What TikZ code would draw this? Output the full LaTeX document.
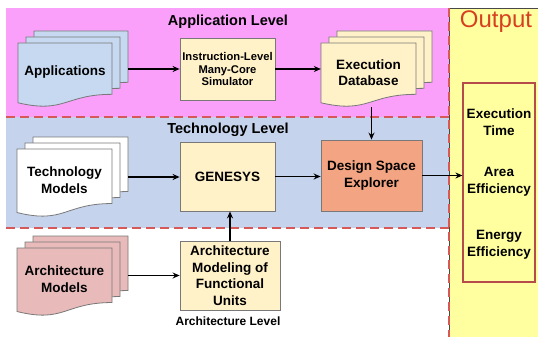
\documentclass[tikz,border=0pt]{standalone}
\usepackage{fontspec}
\setmainfont{Liberation Sans}
\usetikzlibrary{arrows.meta}

\definecolor{appbg}{RGB}{250,160,250}
\definecolor{techbg}{RGB}{197,212,236}
\definecolor{outbg}{RGB}{255,255,160}
\definecolor{cream}{RGB}{255,241,200}
\definecolor{docblue}{RGB}{198,217,241}
\definecolor{docpink}{RGB}{232,186,186}
\definecolor{salmon}{RGB}{243,164,130}
\definecolor{sepred}{RGB}{214,88,88}
\definecolor{outred}{RGB}{214,64,32}
\definecolor{edge}{RGB}{120,120,120}

\tikzset{
  docline/.style={draw=edge, line width=0.8pt},
  boxnode/.style={draw=edge, line width=0.8pt, fill=cream, align=center,
    inner sep=0pt, font=\bfseries\fontsize{13.5}{16.5}\selectfont},
  textnode/.style={align=center, inner sep=0pt, font=\bfseries\fontsize{13.5}{16.5}\selectfont},
  leveltitle/.style={inner sep=0pt, font=\bfseries\fontsize{14.5}{17}\selectfont},
  separator/.style={draw=sepred, line width=2.2pt, dash pattern=on 9pt off 5pt},
  arr/.style={draw=black, line width=1.4pt, -{Stealth[length=7pt,width=6pt]}},
}

% stack of three document sheets: name, left x, top y, width, height, fill, text
\newcommand\docstack[7]{%
  \foreach \k in {2,1,0}{%
    \draw[docline, fill=#6]
      ({#2+8*\k},{#3-6*\k}) -- ({#2+8*\k+#4},{#3-6*\k})
      -- ({#2+8*\k+#4},{#3-6*\k+0.802*#5})
      .. controls ({#2+8*\k+0.5*#4},{#3-6*\k+0.802*#5})
              and ({#2+8*\k+0.5*#4},{#3-6*\k+1.107*#5})
      .. ({#2+8*\k},{#3-6*\k+0.934*#5}) -- cycle;
  }%
  \node[inner sep=0pt, minimum width={(#4+16)*1pt}, minimum height={(#5+12)*1pt}]
    (#1) at ({#2+(#4+16)/2},{#3-12+(#5+12)/2}) {};
  \node[textnode] (#1-text) at ({#2+#4/2},{#3+0.46*#5}) {#7};
}

\begin{document}
\begin{tikzpicture}[x=1pt,y=-1pt]
\useasboundingbox (0,0) rectangle (538,337);
\fill[white] (0,0) rectangle (538,337);

% level bands
\fill[appbg] (6,8) rectangle (449,117);
\fill[techbg] (6,117) rectangle (449,228);

% output panel
\fill[outbg] (449,8) rectangle (538,337);
\draw[edge!60!black, line width=0.8pt] (449,337) -- (449,8) -- (538,8);

% separators
\draw[separator] (6,117) -- (449,117);
\draw[separator] (6,228) -- (449,228);
\draw[separator] (449,8) -- (449,337);

% titles
\node[leveltitle] (apptitle) at (228,22) {Application Level};
\node[leveltitle] (techtitle) at (228,130) {Technology Level};
\node[inner sep=0pt, font=\bfseries\fontsize{12}{14}\selectfont] (archtitle) at (228,321) {Architecture Level};
\node[inner sep=0pt, text=outred, font=\fontsize{24}{28}\selectfont] (outtitle) at (496,22) {Output};

% document stacks
\docstack{apps}{18}{43}{94}{64}{docblue}{Applications}
\docstack{db}{321}{43}{95}{64}{cream}{Execution\\Database}
\docstack{tech}{17}{149}{95}{68}{white}{Technology\\Models}
\docstack{archm}{17}{248}{95}{68}{docpink}{Architecture\\Models}

% process boxes
\node[boxnode, minimum width=95pt, minimum height=62pt,
  font=\bfseries\fontsize{11.2}{12.8}\selectfont] (sim) at (227.5,69)
  {Instruction-Level\\Many-Core\\Simulator};
\node[boxnode, minimum width=95pt, minimum height=69pt] (gen) at (227.5,176.5) {GENESYS};
\node[boxnode, fill=salmon, minimum width=101pt, minimum height=71pt] (dse) at (371.5,175.5)
  {Design Space\\Explorer};
\node[boxnode, minimum width=100pt, minimum height=69pt] (archbox) at (230,275.5)
  {Architecture\\Modeling of\\Functional\\Units};

% output box
\node[draw=sepred!85!black, line width=1.2pt, minimum width=72pt, minimum height=199pt,
  inner sep=0pt] (outbox) at (499,182.5) {};
\node[textnode] (exectime) at (499,122) {Execution\\Time};
\node[textnode] (areaeff) at (499,182) {Area\\Efficiency};
\node[textnode] (energyeff) at (499,245) {Energy\\Efficiency};

% connectors
\draw[arr] (apps.east |- sim.west) -- (sim.west);
\draw[arr] (sim.east) -- (sim.east -| db.west);
\draw[arr] (dse.north |- db.south) -- (dse.north);
\draw[arr] (tech.east) -- (tech.east -| gen.west);
\draw[arr] (gen.east) -- (gen.east -| dse.west);
\draw[arr] (dse.east) -- (dse.east -| outbox.west);
\draw[arr] (archm.east |- archbox.west) -- (archbox.west);
\draw[arr] (archbox.north) -- (archbox.north |- gen.south);
\end{tikzpicture}
\end{document}
